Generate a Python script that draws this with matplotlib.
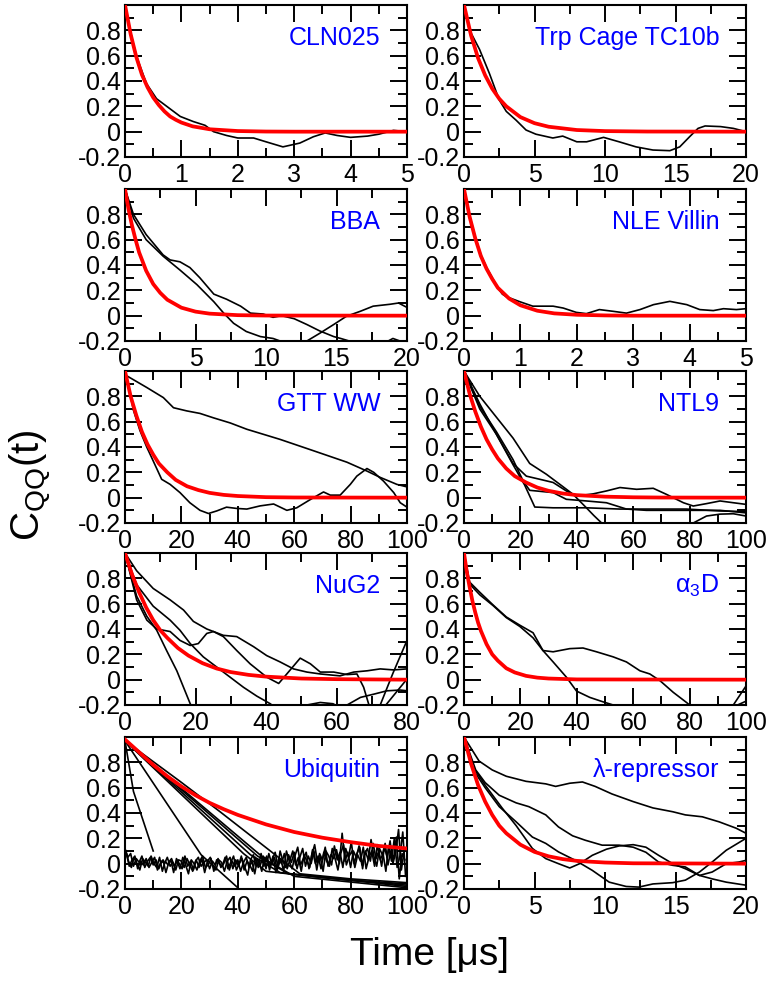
import matplotlib
matplotlib.use('Agg')
import matplotlib.pyplot as plt
from matplotlib.ticker import MultipleLocator, FixedLocator, FuncFormatter

plt.rcParams['font.family'] = ['Liberation Sans', 'DejaVu Sans']
plt.rcParams['axes.unicode_minus'] = False
plt.rcParams['mathtext.fontset'] = 'custom'
plt.rcParams['mathtext.rm'] = 'Liberation Sans'
plt.rcParams['mathtext.it'] = 'Liberation Sans'

# ---------------- data ----------------
# CLN025 (0-5 us)
cln_fit_t = [0, 0.1, 0.2, 0.3, 0.4, 0.5, 0.6, 0.7, 0.8, 0.9, 1.0, 1.2, 1.5, 2.0, 2.5, 3.0, 5.0]
cln_fit_c = [1.0, 0.77, 0.59, 0.45, 0.35, 0.27, 0.21, 0.16, 0.12, 0.094, 0.072, 0.042, 0.019, 0.005, 0.001, 0.0, 0.0]
cln_t = [0, 0.05, 0.09, 0.2, 0.38, 0.56, 0.74, 0.98, 1.21, 1.42, 1.57, 1.8, 2.0, 2.28, 2.5, 2.8, 3.1, 3.34, 3.55, 3.76, 4.0, 4.3, 4.5, 4.76, 5.0]
cln_c = [1.0, 0.9, 0.8, 0.6, 0.38, 0.26, 0.2, 0.12, 0.08, 0.05, 0.0, -0.03, -0.05, -0.05, -0.08, -0.12, -0.09, -0.04, -0.01, -0.03, -0.045, -0.035, -0.02, 0.01, 0.0]

# Trp Cage TC10b (0-20 us)
trp_fit_t = [0, 0.5, 1, 1.5, 2, 2.5, 3, 4, 5, 6, 8, 10, 13, 20]
trp_fit_c = [1, 0.76, 0.58, 0.445, 0.34, 0.26, 0.2, 0.115, 0.067, 0.039, 0.013, 0.0045, 0.001, 0]
trp_t = [0, 0.4, 1.1, 1.8, 2.5, 3.0, 3.7, 4.4, 5.1, 6.3, 7.0, 8.0, 8.7, 9.9, 11.0, 12.2, 13.4, 14.6, 15.3, 16.0, 16.6, 17.1, 18.2, 19.1, 20]
trp_c = [1, 0.8, 0.65, 0.46, 0.25, 0.16, 0.09, 0.013, -0.02, -0.05, -0.035, -0.08, -0.08, -0.045, -0.08, -0.12, -0.145, -0.15, -0.12, -0.04, 0.026, 0.045, 0.04, 0.026, 0]

# BBA (0-20 us)
bba_fit_t = [0, 0.25, 0.5, 0.75, 1, 1.5, 2, 2.5, 3, 4, 5, 6, 8, 10, 20]
bba_fit_c = [1, 0.84, 0.71, 0.6, 0.5, 0.355, 0.25, 0.18, 0.126, 0.063, 0.032, 0.016, 0.004, 0.001, 0]
bba_a_t = [0, 0.6, 1.5, 2.7, 3.2, 3.9, 4.6, 5.3, 6.3, 7.2, 8.2, 8.9, 9.8, 10.5, 11.1, 12.0, 12.9, 13.8, 14.8, 15.3, 16.5, 18]
bba_a_c = [1, 0.8, 0.64, 0.48, 0.44, 0.425, 0.38, 0.3, 0.17, 0.13, 0.075, 0.02, 0.013, -0.013, 0.0, -0.024, -0.07, -0.12, -0.165, -0.18, -0.22, -0.3]
bba_b_t = [0, 0.6, 1.5, 2.7, 3.9, 5.1, 6.3, 7.0, 7.7, 8.6, 9.6, 10.5, 11.0, 13, 16, 18.5, 19.0, 19.5, 20]
bba_b_c = [1, 0.77, 0.6, 0.47, 0.36, 0.245, 0.11, 0.02, -0.06, -0.125, -0.165, -0.18, -0.2, -0.3, -0.28, -0.21, -0.18, -0.2, -0.23]
bba_c_t = [12.5, 12.9, 13.8, 14.8, 15.7, 16.7, 17.6, 18.8, 19.4, 20]
bba_c_c = [-0.23, -0.2, -0.14, -0.07, -0.005, 0.035, 0.075, 0.09, 0.1, 0.065]

# NLE Villin (0-5 us)
vil_fit_t = [0, 0.1, 0.2, 0.3, 0.4, 0.5, 0.6, 0.8, 1.0, 1.3, 1.6, 2.0, 2.5, 3.0, 5.0]
vil_fit_c = [1, 0.78, 0.61, 0.47, 0.37, 0.29, 0.22, 0.135, 0.082, 0.039, 0.018, 0.007, 0.002, 0, 0]
vil_t = [0, 0.1, 0.2, 0.3, 0.4, 0.5, 0.6, 0.68, 0.75, 0.99, 1.22, 1.58, 1.76, 1.99, 2.17, 2.4, 2.65, 2.88, 3.12, 3.36, 3.65, 3.95, 4.18, 4.42, 4.6, 4.83, 5.0]
vil_c = [1, 0.79, 0.62, 0.48, 0.38, 0.3, 0.22, 0.17, 0.15, 0.11, 0.075, 0.075, 0.06, 0.026, 0.016, 0.048, 0.034, 0.02, 0.048, 0.087, 0.113, 0.087, 0.048, 0.04, 0.055, 0.048, 0.055]

# GTT WW (0-100 us)
gtt_fit_t = [0, 2, 4, 6, 8, 10, 12, 15, 18, 22, 26, 30, 35, 40, 50, 60, 100]
gtt_fit_c = [1, 0.8, 0.65, 0.52, 0.42, 0.34, 0.27, 0.2, 0.14, 0.09, 0.06, 0.038, 0.022, 0.013, 0.004, 0.0015, 0]
gtt_a_t = [0, 7.7, 13.6, 17.2, 21.9, 26.6, 31.4, 37.3, 43.2, 55, 66.9, 78.7, 85.8, 90.5, 96.4, 100]
gtt_a_c = [0.97, 0.87, 0.79, 0.71, 0.685, 0.665, 0.63, 0.59, 0.54, 0.46, 0.37, 0.28, 0.21, 0.16, 0.105, 0.085]
gtt_b_t = [0, 1.8, 3, 5.3, 7.7, 10, 13, 16, 19.5, 23, 26.6, 29.6, 32.5, 36, 39.6, 43.2, 47.9, 52.7, 57.4, 60.9, 65.7, 70.4, 72.8, 76.3, 79.9, 82.2, 85.8, 88.2, 91.7, 95.3, 97.6, 100]
gtt_b_c = [0.97, 0.82, 0.69, 0.53, 0.4, 0.29, 0.145, 0.105, 0.04, -0.04, -0.1, -0.125, -0.105, -0.075, -0.085, -0.09, -0.065, -0.05, -0.1, -0.08, -0.015, 0.045, 0.02, 0.02, 0.105, 0.17, 0.23, 0.2, 0.13, 0.04, -0.04, -0.075]

# NTL9 (0-100 us)
ntl_fit_t = [0, 2, 4, 6, 8, 10, 12, 15, 18, 22, 26, 30, 35, 40, 50, 60, 70, 100]
ntl_fit_c = [1, 0.82, 0.68, 0.56, 0.46, 0.38, 0.31, 0.23, 0.17, 0.12, 0.08, 0.054, 0.033, 0.02, 0.008, 0.003, 0.001, 0]
ntl_a_t = [0, 5.6, 11.5, 17.4, 21.5, 25.1, 31.6, 43.4, 55.3, 67.1, 78.9, 90.8, 100]
ntl_a_c = [1, 0.74, 0.5, 0.26, 0.1, -0.074, -0.08, -0.08, -0.09, -0.09, -0.09, -0.105, -0.11]
ntl_b_t = [0, 5.6, 11.5, 17.4, 23.3, 29.2, 34, 38.7, 43.4, 46, 48.8, 52, 65, 78, 81.3, 86, 90.8, 95.5, 100]
ntl_b_c = [1, 0.8, 0.635, 0.47, 0.27, 0.185, 0.105, 0.026, -0.08, -0.14, -0.2, -0.26, -0.3, -0.25, -0.2, -0.145, -0.13, -0.127, -0.145]
ntl_c_t = [0, 5.6, 11.5, 17.4, 22.1, 26.9, 31.6, 36.3, 39.9, 45.8, 50.5, 55.3, 61.2, 67.1, 71.8, 77.8, 81.3, 86, 90.8, 95.5, 100]
ntl_c_c = [1, 0.7, 0.5, 0.27, 0.17, 0.145, 0.12, 0.053, 0.013, 0.03, 0.053, 0.08, 0.066, 0.074, 0.026, -0.04, -0.066, -0.047, -0.026, -0.04, -0.053]
ntl_d_t = [0, 5.6, 11.5, 17.4, 21, 23.3, 31.6, 36.3, 43.4, 50.5, 57.6, 64.7, 78.9, 90.8, 100]
ntl_d_c = [1, 0.72, 0.52, 0.3, 0.13, 0.058, 0.04, -0.013, -0.026, -0.04, -0.09, -0.1, -0.1, -0.1, -0.12]

# NuG2 (0-80 us)
nug_fit_t = [0, 2, 4, 6, 8, 10, 12, 15, 18, 22, 26, 30, 35, 40, 50, 60, 80]
nug_fit_c = [1, 0.83, 0.69, 0.57, 0.47, 0.39, 0.33, 0.25, 0.19, 0.13, 0.088, 0.06, 0.038, 0.024, 0.009, 0.004, 0]
nug_a_t = [0, 3.3, 6.2, 9, 11.8, 14.7, 16.6, 18.5, 20, 40, 65, 72.4, 76, 80]
nug_a_c = [1, 0.66, 0.5, 0.39, 0.23, 0.07, -0.06, -0.19, -0.26, -0.4, -0.4, -0.2, 0.05, 0.31]
nug_b_t = [0, 3.3, 6.2, 9, 12.8, 15.6, 18.5, 20.8, 23.2, 25.1, 27.9, 31.7, 35.5, 40.2, 43.6, 45.9, 49.7, 52.6, 55.4, 59.2, 63, 65.8, 67.7, 69.1, 70, 75]
nug_b_c = [1, 0.63, 0.47, 0.4, 0.38, 0.31, 0.27, 0.285, 0.365, 0.38, 0.34, 0.23, 0.125, 0.02, -0.03, 0.045, 0.17, 0.125, 0.06, 0.06, 0.04, 0.045, -0.06, -0.19, -0.25, -0.3]
nug_c_t = [0, 3.3, 8, 12.8, 16.6, 19.4, 23.2, 27.9, 31.7, 36.5, 40.2, 44, 47.8, 51.6, 55.4, 61, 64.9, 68.7, 72.4, 76.2, 80]
nug_c_c = [1, 0.86, 0.72, 0.63, 0.55, 0.46, 0.4, 0.35, 0.34, 0.26, 0.19, 0.14, 0.085, 0.06, 0.045, 0.03, 0.06, 0.07, 0.085, 0.077, 0.085]
nug_d_t = [0, 3.3, 8, 12.8, 15.6, 18.5, 22.2, 26, 29.8, 33.6, 37.4, 41.2, 45, 60, 74, 80]
nug_d_c = [1, 0.75, 0.58, 0.47, 0.39, 0.285, 0.18, 0.1, 0.02, -0.06, -0.13, -0.19, -0.27, -0.3, -0.2, 0.005]
nug_e_t = [50, 51.6, 55.4, 59, 61, 63, 66.8, 70.5, 74.3, 78.1, 80]
nug_e_c = [-0.24, -0.2, -0.18, -0.19, -0.22, -0.2, -0.14, -0.115, -0.088, -0.082, -0.088]

# alpha3D (0-100 us)
a3d_fit_t = [0, 1, 2, 3, 4, 5, 6, 8, 10, 12, 15, 18, 22, 26, 30, 40, 100]
a3d_fit_c = [1, 0.85, 0.73, 0.62, 0.53, 0.45, 0.385, 0.28, 0.2, 0.15, 0.09, 0.057, 0.03, 0.016, 0.009, 0.002, 0]
a3d_a_t = [0, 2, 5.6, 10.3, 15, 19.8, 24.5, 28, 31.6, 36.3, 39.9, 44.6, 49.3, 52.9, 56, 80, 94, 95.5, 100]
a3d_a_c = [1, 0.77, 0.69, 0.59, 0.495, 0.43, 0.37, 0.23, 0.14, 0.02, -0.09, -0.14, -0.175, -0.2, -0.23, -0.4, -0.22, -0.2, -0.05]
a3d_b_t = [0, 2, 5.6, 10.3, 15, 19.8, 24.5, 28, 31.6, 37.5, 42.2, 47, 52.9, 57.6, 62.4, 65.9, 69.5, 74.2, 78.9, 80, 82, 96, 97, 100]
a3d_b_c = [1, 0.755, 0.67, 0.585, 0.49, 0.42, 0.33, 0.23, 0.22, 0.245, 0.25, 0.22, 0.18, 0.14, 0.07, 0.045, -0.008, -0.1, -0.18, -0.2, -0.23, -0.22, -0.2, -0.17]

# Ubiquitin (0-100 us)
ubq_fit_t = [0, 5, 10, 15, 20, 25, 30, 35, 40, 50, 60, 70, 80, 90, 100]
ubq_fit_c = [0.98, 0.88, 0.78, 0.69, 0.61, 0.54, 0.48, 0.43, 0.385, 0.31, 0.25, 0.205, 0.17, 0.14, 0.12]
ubq_a_t = [0, 3, 10]
ubq_a_c = [0.97, 0.57, 0.1]
ubq_b_t = [0, 27, 40]
ubq_b_c = [0.97, 0.07, -0.19]
ubq_c_t = [0, 42, 50, 70, 100]
ubq_c_c = [0.97, 0.08, -0.06, -0.11, -0.17]
ubq_d_t = [0, 44.5, 55, 75, 100]
ubq_d_c = [0.97, 0.07, -0.07, -0.12, -0.18]
ubq_e_t = [0, 47, 58, 80, 100]
ubq_e_c = [0.97, 0.06, -0.08, -0.13, -0.16]
ubq_f_t = [0, 19.5, 33.7, 55, 62, 80, 100]
ubq_f_c = [0.97, 0.65, 0.41, 0.04, -0.08, -0.12, -0.15]
ubq_g_t = [0, 50, 60, 100]
ubq_g_c = [0.97, 0.03, -0.1, -0.19]
ubq_n1_t = list(range(0, 100))
ubq_n1_c = [0.12, 0.05, 0.08, -0.02, 0.04, 0.01, 0.06, -0.03, 0.02, 0.05,
            -0.01, 0.03, -0.04, 0.02, 0.0, 0.05, -0.02, 0.01, -0.05, 0.03,
            0.02, -0.03, 0.04, -0.01, -0.06, 0.02, 0.05, -0.02, 0.01, 0.03,
            -0.04, 0.02, -0.01, 0.04, -0.03, 0.0, 0.06, -0.05, 0.02, -0.02,
            0.03, -0.06, 0.01, 0.05, -0.03, 0.02, -0.08, 0.04, -0.01, 0.06,
            -0.04, 0.08, 0.0, 0.05, -0.05, 0.1, 0.02, -0.03, 0.07, 0.01,
            0.09, -0.04, 0.05, 0.12, -0.02, 0.06, 0.0, 0.1, -0.05, 0.08,
            0.03, 0.13, -0.02, 0.07, 0.04, 0.11, 0.0, 0.24, 0.02, 0.09,
            -0.03, 0.1, 0.05, 0.14, -0.01, 0.08, 0.12, 0.02, 0.16, 0.04,
            0.1, -0.02, 0.13, 0.05, 0.18, 0.0, 0.09, 0.27, -0.05, 0.1]
ubq_n2_t = [x + 0.5 for x in range(0, 100)]
ubq_n2_c = [0.08, -0.02, 0.03, 0.06, -0.04, 0.02, -0.01, 0.04, -0.03, 0.01,
            0.05, -0.05, 0.0, 0.03, -0.07, 0.01, 0.04, -0.02, 0.02, -0.04,
            0.05, -0.01, -0.08, 0.03, 0.0, -0.05, 0.02, 0.06, -0.03, -0.01,
            0.04, -0.06, 0.03, 0.0, -0.02, 0.05, -0.04, 0.01, 0.06, -0.05,
            0.0, 0.04, -0.03, -0.09, 0.03, 0.07, -0.02, 0.02, -0.06, 0.05,
            0.03, -0.02, 0.06, -0.07, 0.04, 0.0, 0.08, -0.04, 0.03, 0.1,
            -0.01, 0.05, -0.06, 0.07, 0.02, -0.03, 0.11, 0.0, 0.06, -0.04,
            0.09, 0.02, -0.02, 0.12, 0.04, -0.05, 0.08, 0.15, -0.01, 0.06,
            0.1, -0.03, 0.07, 0.02, 0.13, -0.04, 0.05, 0.1, -0.02, 0.15,
            0.03, 0.08, -0.06, 0.14, 0.02, 0.2, -0.03, 0.06, 0.25, -0.1]
ubq_n3_t = [x + 0.25 for x in range(0, 100)]
ubq_n3_c = [0.1, 0.02, -0.03, 0.05, 0.0, -0.05, 0.04, 0.01, -0.02, 0.06,
            0.0, -0.03, 0.05, -0.06, 0.02, -0.01, 0.03, -0.07, 0.04, 0.0,
            -0.04, 0.06, -0.02, 0.02, -0.05, 0.03, -0.03, 0.04, -0.07, 0.02,
            0.05, -0.02, -0.05, 0.03, 0.01, -0.06, 0.02, 0.05, -0.04, 0.03,
            -0.02, 0.06, -0.05, 0.02, -0.01, -0.06, 0.05, -0.03, 0.08, -0.02,
            0.06, -0.05, 0.03, 0.09, -0.03, 0.04, -0.06, 0.1, 0.02, -0.04,
            0.06, 0.13, -0.01, 0.04, 0.09, -0.04, 0.07, 0.15, 0.01, 0.05,
            -0.06, 0.1, 0.06, -0.01, 0.14, 0.03, 0.09, -0.03, 0.12, 0.05,
            0.17, 0.0, 0.08, 0.13, -0.04, 0.1, 0.03, 0.19, 0.06, -0.02,
            0.12, 0.07, 0.16, -0.01, 0.1, 0.04, 0.21, -0.12, 0.08, 0.03]

# lambda-repressor (0-20 us)
lam_fit_t = [0, 0.5, 1, 1.5, 2, 2.5, 3, 4, 5, 6, 7, 8, 10, 12, 20]
lam_fit_c = [1, 0.79, 0.62, 0.49, 0.385, 0.3, 0.24, 0.15, 0.093, 0.058, 0.036, 0.022, 0.009, 0.003, 0]
lam_a_t = [0, 1.07, 2, 3, 4.4, 5.8, 6.5, 7.5, 8.4, 9.3, 10.5, 12, 13.4, 14.8, 15.7, 16.9, 18.1, 19.3, 20]
lam_a_c = [1, 0.81, 0.74, 0.69, 0.65, 0.63, 0.61, 0.635, 0.645, 0.61, 0.55, 0.49, 0.44, 0.41, 0.385, 0.37, 0.33, 0.28, 0.24]
lam_b_t = [0, 0.83, 1.5, 2.5, 3.7, 4.6, 5.8, 6.7, 7.7, 8.6, 9.8, 11, 12, 12.9, 13.8, 14.8, 15.7, 16.7, 17.6, 18.6, 20]
lam_b_c = [1, 0.74, 0.64, 0.54, 0.48, 0.45, 0.385, 0.29, 0.22, 0.185, 0.146, 0.146, 0.13, 0.09, 0.013, -0.013, -0.026, -0.093, -0.12, -0.146, -0.17]
lam_c_t = [0, 0.6, 1.5, 2.5, 3.7, 4.85, 5.8, 6.7, 7.9, 9.1, 10.3, 11.5, 12.4, 13.4, 14.8, 15.7, 16.7, 17.6, 18.6, 20]
lam_c_c = [1, 0.75, 0.6, 0.45, 0.33, 0.21, 0.16, 0.093, 0.026, -0.053, -0.146, -0.18, -0.185, -0.16, -0.15, -0.13, -0.066, 0.013, 0.106, 0.2]
lam_d_t = [0, 0.6, 1.5, 2.7, 3.7, 4.85, 5.8, 6.7, 7.5, 8.2, 9.1, 10.1, 11, 12, 12.9, 13.8, 14.8, 15.7, 16.7, 17.6, 18.6, 19.5, 20]
lam_d_c = [1, 0.77, 0.62, 0.44, 0.3, 0.12, 0.04, 0.0, -0.034, 0.0, 0.066, 0.114, 0.14, 0.15, 0.13, 0.066, 0.0, -0.04, -0.093, -0.066, 0.0, 0.013, 0.026]

labels = ['CLN025', 'Trp Cage TC10b', 'BBA', 'NLE Villin', 'GTT WW', 'NTL9',
          'NuG2', r'$\mathregular{\alpha_3D}$', 'Ubiquitin', 'λ-repressor']
x_max = [5, 20, 20, 5, 100, 100, 80, 100, 100, 20]
x_major = [1, 5, 5, 1, 20, 20, 20, 20, 20, 5]
y_major = [-0.2, 0, 0.2, 0.4, 0.6, 0.8]
y_minor = [-0.1, 0.1, 0.3, 0.5, 0.7, 0.9]

fits = [(cln_fit_t, cln_fit_c), (trp_fit_t, trp_fit_c), (bba_fit_t, bba_fit_c),
        (vil_fit_t, vil_fit_c), (gtt_fit_t, gtt_fit_c), (ntl_fit_t, ntl_fit_c),
        (nug_fit_t, nug_fit_c), (a3d_fit_t, a3d_fit_c), (ubq_fit_t, ubq_fit_c),
        (lam_fit_t, lam_fit_c)]
traces = [
    [(cln_t, cln_c)],
    [(trp_t, trp_c)],
    [(bba_a_t, bba_a_c), (bba_b_t, bba_b_c), (bba_c_t, bba_c_c)],
    [(vil_t, vil_c)],
    [(gtt_a_t, gtt_a_c), (gtt_b_t, gtt_b_c)],
    [(ntl_a_t, ntl_a_c), (ntl_b_t, ntl_b_c), (ntl_c_t, ntl_c_c), (ntl_d_t, ntl_d_c)],
    [(nug_a_t, nug_a_c), (nug_b_t, nug_b_c), (nug_c_t, nug_c_c), (nug_d_t, nug_d_c), (nug_e_t, nug_e_c)],
    [(a3d_a_t, a3d_a_c), (a3d_b_t, a3d_b_c)],
    [(ubq_n1_t, ubq_n1_c), (ubq_n2_t, ubq_n2_c), (ubq_n3_t, ubq_n3_c), (ubq_a_t, ubq_a_c),
     (ubq_b_t, ubq_b_c), (ubq_c_t, ubq_c_c), (ubq_d_t, ubq_d_c), (ubq_e_t, ubq_e_c),
     (ubq_f_t, ubq_f_c), (ubq_g_t, ubq_g_c)],
    [(lam_a_t, lam_a_c), (lam_b_t, lam_b_c), (lam_c_t, lam_c_c), (lam_d_t, lam_d_c)],
]

# ---------------- figure ----------------
W, H = 770, 982
fig = plt.figure(figsize=(W / 100, H / 100), dpi=100)
fig.patch.set_facecolor('white')
col_left = [125, 464]
row_top = [5, 189, 371, 553, 737]
pw, ph = 282, 152

fmt = FuncFormatter(lambda v, p: '%g' % round(v, 3))

for i in range(10):
    r, c = divmod(i, 2)
    ax = fig.add_axes([col_left[c] / W, 1 - (row_top[r] + ph) / H, pw / W, ph / H])
    for (tt, cc) in traces[i]:
        ax.plot(tt, cc, color='black', lw=1.2, zorder=2)
    ft, fc = fits[i]
    ax.plot(ft, fc, color='#ff0000', lw=2.7, zorder=3)
    ax.set_xlim(0, x_max[i])
    ax.set_ylim(-0.2, 1.0)
    ax.xaxis.set_major_locator(MultipleLocator(x_major[i]))
    ax.xaxis.set_minor_locator(MultipleLocator(x_major[i] / 2))
    ax.yaxis.set_major_locator(FixedLocator(y_major))
    ax.yaxis.set_minor_locator(FixedLocator(y_minor))
    ax.xaxis.set_major_formatter(fmt)
    ax.yaxis.set_major_formatter(fmt)
    ax.tick_params(which='both', direction='in', top=True, right=True, width=1.4,
                   labelsize=18, colors='black')
    ax.tick_params(which='major', length=12, pad=3)
    ax.tick_params(which='minor', length=6.5)
    ax.tick_params(axis='x', which='major', pad=4)
    for s in ax.spines.values():
        s.set_linewidth(1.5)
    ax.text(0.905, 0.785, labels[i], transform=ax.transAxes, ha='right', va='center',
            color='#0000ff', fontsize=18)

fig.text(30 / W, 1 - 485 / H, r'$\mathregular{C_{QQ}(t)}$', rotation=90, ha='center', va='center', fontsize=29)
fig.text(429 / W, 1 - 955 / H, 'Time [μs]', ha='center', va='center', fontsize=28)

fig.savefig('out.png', dpi=100, facecolor='white')
